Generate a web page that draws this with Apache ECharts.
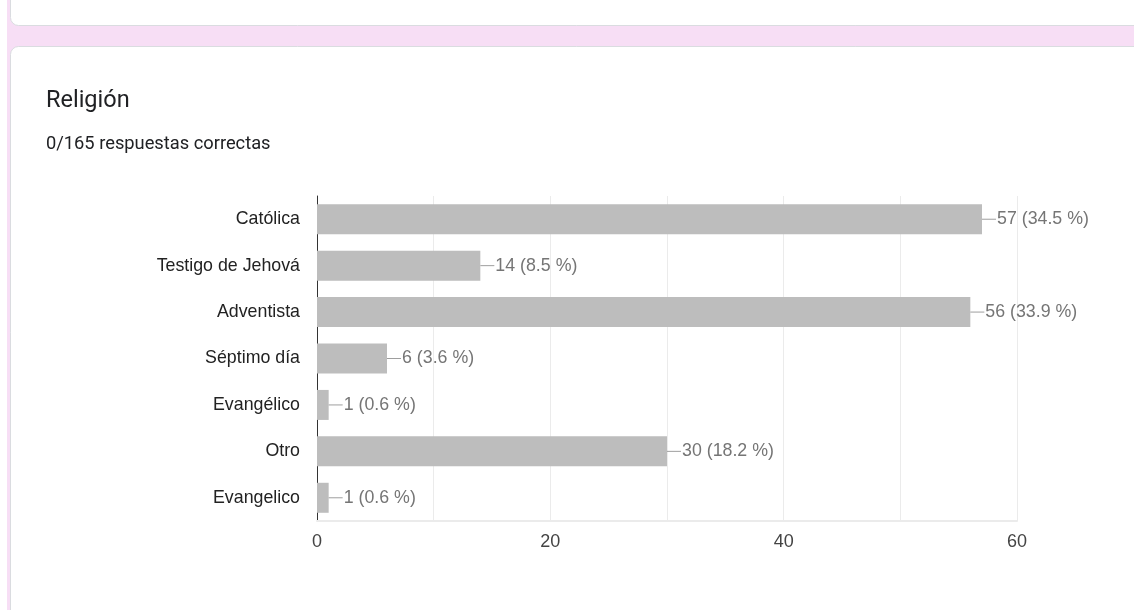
<!DOCTYPE html>
<html>
<head>
<meta charset="utf-8">
<script src="https://cdn.jsdelivr.net/npm/echarts@6/dist/echarts.min.js"></script>
<style>
html,body{margin:0;padding:0;background:#fff;}
#c{width:1134px;height:610px;}
</style>
</head>
<body>
<div id="c"></div>
<script>
const categories = ['Católica','Testigo de Jehová','Adventista','Séptimo día','Evangélico','Otro','Evangelico'];
const values = [57,14,56,6,1,30,1];
const percents = ['34.5','8.5','33.9','3.6','0.6','18.2','0.6'];
const tickLabels = ['0','20','40','60'];

const chart = echarts.init(document.getElementById('c'), null, {renderer:'canvas'});
const FONT = '"Liberation Sans", Arial, sans-serif';

chart.setOption({
  animation:false,
  backgroundColor:'#ffffff',
  graphic:[
    {type:'rect', z:-10, silent:true, shape:{x:7,y:0,width:1140,height:610}, style:{fill:'#f7def5'}},
    {type:'rect', z:-9, silent:true, shape:{x:10.5,y:-30,width:1200,height:55.5,r:8}, style:{fill:'#ffffff',stroke:'#dadce0',lineWidth:1}},
    {type:'rect', z:-9, silent:true, shape:{x:10.5,y:46.5,width:1200,height:700,r:8}, style:{fill:'#ffffff',stroke:'#dadce0',lineWidth:1}},
    {type:'text', z:5, left:46, top:89, style:{text:'Religión', fontSize:23.5, fontFamily:'Roboto, sans-serif', fill:'#202124'}},
    {type:'text', z:5, left:46, top:135, style:{text:'0/165 respuestas correctas', fontSize:18.3, fontFamily:'Roboto, sans-serif', fill:'#202124'}}
  ],
  grid:{left:317, right:117, top:196, bottom:89, containLabel:false},
  xAxis:{
    type:'value', min:0, max:60, interval:10,
    axisLine:{show:true, lineStyle:{color:'#ebebeb', width:2}},
    axisTick:{show:false},
    splitLine:{show:true, lineStyle:{color:'#ebebeb', width:1}},
    axisLabel:{
      margin:12, fontSize:18, fontFamily:FONT, color:'#444',
      formatter:function(v){ const s=String(v); return tickLabels.indexOf(s)>=0 ? s : ''; }
    }
  },
  yAxis:{
    type:'category', data:categories, inverse:true,
    axisLine:{show:true, onZero:false, lineStyle:{color:'#333', width:1}},
    axisTick:{show:false},
    axisLabel:{margin:17, fontSize:17.8, fontFamily:FONT, color:'#222'}
  },
  series:[{
    type:'bar',
    data:values,
    barWidth:30,
    itemStyle:{color:'#bdbdbd'},
    label:{
      show:true, position:'right', distance:0,
      formatter:function(p){ return '{ln|}{t|' + p.value + ' (' + percents[p.dataIndex] + ' %)}'; },
      rich:{
        ln:{width:14, height:1, backgroundColor:'#9e9e9e'},
        t:{fontSize:17.8, fontFamily:FONT, color:'#757575', padding:[0,0,0,1]}
      }
    }
  }]
});
</script>
</body>
</html>
